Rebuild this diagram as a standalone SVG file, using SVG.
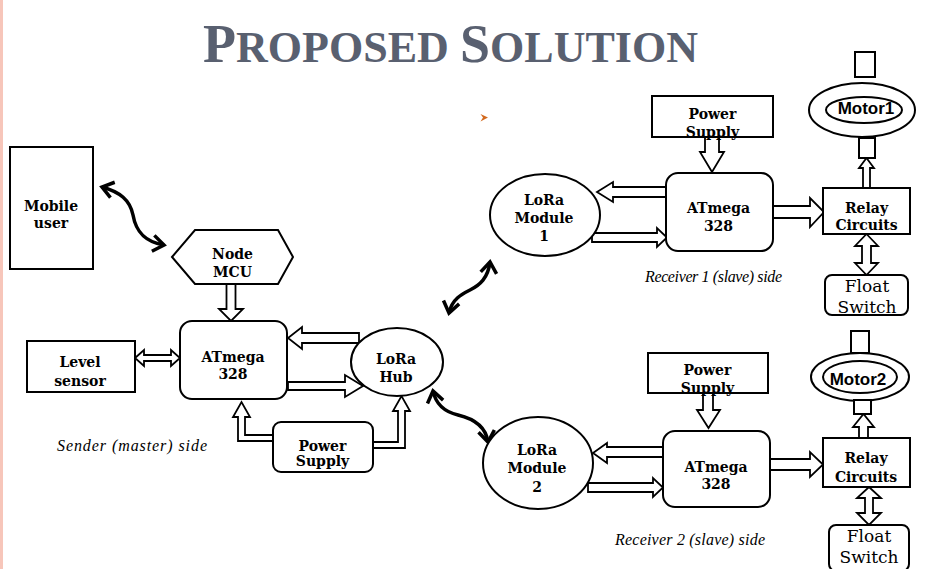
<svg xmlns="http://www.w3.org/2000/svg" width="931" height="569" viewBox="0 0 931 569">
<defs>
<style>
.box{fill:#fff;stroke:#000;stroke-width:2}
.ba{fill:#fff;stroke:#000;stroke-width:1.8;stroke-linejoin:miter}
.curve{fill:none;stroke:#000;stroke-width:3.5;marker-start:url(#chev);marker-end:url(#chev)}
.lb{font-family:"DejaVu Serif",serif;font-weight:bold;font-size:14px;text-anchor:middle;fill:#000}
.cap{font-family:"Liberation Serif","Times New Roman",serif;font-style:italic;font-size:16px;text-anchor:middle;fill:#000}
.fl{font-family:"DejaVu Serif",serif;font-size:17px;text-anchor:middle;fill:#000}
.mt{font-family:"Liberation Sans",Arial,sans-serif;font-weight:bold;font-size:17px;text-anchor:middle;fill:#000}
.title{font-family:"Liberation Serif","Times New Roman",serif;font-weight:bold;fill:#596070}
</style>
<marker id="chev" viewBox="-14 -10 16 20" refX="0" refY="0" markerWidth="16" markerHeight="20" markerUnits="userSpaceOnUse" orient="auto-start-reverse" style="overflow:visible">
<path d="M-11,-8 L0,0 L-11,8" fill="none" stroke="#000" stroke-width="3.5" stroke-linejoin="miter"/>
</marker>
</defs>
<rect x="0" y="0" width="931" height="569" fill="#fff"/>
<rect x="0" y="0" width="3" height="569" fill="#f7c6ba"/>

<g id="title">
<text class="title" x="203" y="62" textLength="495" lengthAdjust="spacing"><tspan font-size="54">P</tspan><tspan font-size="44">ROPOSED </tspan><tspan font-size="54">S</tspan><tspan font-size="44">OLUTION</tspan></text>
</g>
<polygon id="bullet" points="480.5,114 488,117.5 480.5,121.5 483,117.5" fill="#d2691e"/>

<g id="connectors">
<path class="curve" d="M102,187 C120,192 130,200 133,215 C136,232 145,242 164,245"/>
<path class="curve" d="M449,313 C452,299 462,294 470,290 C480,285 488,278 490,262"/>
<path class="curve" d="M433,391 C436,405 445,412 458,415 C475,419 486,428 488,442"/>
<polygon class="ba" points="226.5,284 235.5,284 235.5,309 243,309 231,321 219,309 226.5,309"/>
<polygon class="ba" points="135,358 144,350 144,355 171,355 171,350 180,358 171,366 171,361 144,361 144,366"/>
<polygon class="ba" points="359,333 302,333 302,327 288,338 302,349 302,343 359,343"/>
<polygon class="ba" points="288,382 345,382 345,375 363,386 345,397 345,390 288,390"/>
<polygon class="ba" points="273,435 245,435 245,417 250,417 241.5,402 233,417 238,417 238,441 273,441"/>
<polygon class="ba" points="373,442 398,442 398,411 393,411 401.5,396 410,411 405,411 405,448 373,448"/>
<polygon class="ba" points="666,187 613,187 613,182 597,192 613,202 613,197 666,197"/>
<polygon class="ba" points="592,233 657,233 657,228 667,237.5 657,247 657,242 592,242"/>
<polygon class="ba" points="705,137 719,137 719,152 724,152 712,172 700,152 705,152"/>
<polygon class="ba" points="773,206 810,206 810,198 824,212 810,227 810,218 773,218"/>
<polygon class="ba" points="863,188 870,188 870,168 874,168 866.5,158 859,168 863,168"/>
<polygon class="ba" points="866.5,234 878,246 871,246 871,263 878,263 866.5,275 855,263 862,263 862,246 855,246"/>
<polygon class="ba" points="663,447 607,447 607,443 593,453 607,463 607,457 663,457"/>
<polygon class="ba" points="588,483 653,483 653,478 663,487.5 653,497 653,492 588,492"/>
<polygon class="ba" points="703,393 713,393 713,410 720,410 708.5,428 697,410 703,410"/>
<polygon class="ba" points="770,459 810,459 810,452 823,464.5 810,477 810,470 770,470"/>
<polygon class="ba" points="859,438 868,438 868,427 874,427 863.5,414 853,427 859,427"/>
<polygon class="ba" points="869,487 881,498 873,498 873,513 881,513 869,525 857,513 865,513 865,498 857,498"/>
</g>

<g id="mobile-user">
<rect class="box" x="10" y="147" width="83" height="122"/>
<text class="lb" x="51" y="211">Mobile</text>
<text class="lb" x="51" y="228">user</text>
</g>
<g id="nodemcu">
<polygon class="box" points="172,257 195,230 278,230 293,257 278,284 195,284"/>
<text class="lb" x="232.5" y="259">Node</text>
<text class="lb" x="232.5" y="277">MCU</text>
</g>
<g id="atmega-sender">
<rect class="box" x="180" y="321" width="107" height="78" rx="12"/>
<text class="lb" x="233" y="362">ATmega</text>
<text class="lb" x="233" y="379">328</text>
</g>
<g id="level-sensor">
<rect class="box" x="27" y="341" width="108" height="51"/>
<text class="lb" x="80" y="367" font-size="16">Level</text>
<text class="lb" x="80" y="386" font-size="16">sensor</text>
</g>
<g id="lora-hub">
<ellipse class="box" cx="397" cy="362" rx="46" ry="34"/>
<text class="lb" x="396" y="364">LoRa</text>
<text class="lb" x="396" y="382">Hub</text>
</g>
<g id="power-sender">
<rect class="box" x="273" y="422" width="100" height="50" rx="8"/>
<text class="lb" x="322.5" y="451" font-size="13.5">Power</text>
<text class="lb" x="322.5" y="466" font-size="13.5">Supply</text>
</g>
<text id="cap-sender" class="cap" x="132" y="451" textLength="150">Sender (master) side</text>

<g id="lora-module-1">
<ellipse class="box" cx="545" cy="215" rx="55" ry="41"/>
<text class="lb" x="544" y="205">LoRa</text>
<text class="lb" x="544" y="223">Module</text>
<text class="lb" x="544" y="241">1</text>
</g>
<g id="atmega-r1">
<rect class="box" x="666" y="173" width="107" height="78" rx="12"/>
<text class="lb" x="718.5" y="213">ATmega</text>
<text class="lb" x="718.5" y="231">328</text>
</g>
<g id="power-r1">
<rect class="box" x="652" y="96" width="121" height="41"/>
<text class="lb" x="712.5" y="119" font-size="13.5">Power</text>
<text class="lb" x="712.5" y="137" font-size="13.5">Supply</text>
</g>
<g id="relay-r1">
<rect class="box" x="823" y="188" width="87" height="46"/>
<text class="lb" x="866.5" y="213" font-size="13.5">Relay</text>
<text class="lb" x="866.5" y="230" font-size="13.5">Circuits</text>
</g>
<g id="motor1">
<rect class="box" x="855" y="52" width="20" height="25"/>
<ellipse class="box" cx="862" cy="110" rx="53" ry="27"/>
<ellipse class="box" cx="864" cy="110" rx="38" ry="13"/>
<rect class="box" x="859" y="138" width="16" height="20"/>
<text class="mt" x="866" y="114">Motor1</text>
</g>
<g id="float-r1">
<rect class="box" x="825" y="275" width="83" height="40" rx="7"/>
<text class="fl" x="867" y="292">Float</text>
<text class="fl" x="867" y="313">Switch</text>
</g>
<text id="cap-r1" class="cap" x="713.5" y="282" font-size="15" textLength="137">Receiver 1 (slave) side</text>

<g id="lora-module-2">
<ellipse class="box" cx="538" cy="463" rx="55" ry="46"/>
<text class="lb" x="537" y="455">LoRa</text>
<text class="lb" x="537" y="473">Module</text>
<text class="lb" x="537" y="492">2</text>
</g>
<g id="atmega-r2">
<rect class="box" x="663" y="431" width="107" height="76" rx="12"/>
<text class="lb" x="716" y="472">ATmega</text>
<text class="lb" x="716" y="489">328</text>
</g>
<g id="power-r2">
<rect class="box" x="648" y="353" width="120" height="40"/>
<text class="lb" x="707.5" y="375" font-size="13.5">Power</text>
<text class="lb" x="707.5" y="393" font-size="13.5">Supply</text>
</g>
<g id="relay-r2">
<rect class="box" x="823" y="438" width="87" height="49"/>
<text class="lb" x="866" y="463" font-size="13.5">Relay</text>
<text class="lb" x="866" y="482" font-size="13.5">Circuits</text>
</g>
<g id="motor2">
<rect class="box" x="851" y="331" width="18" height="22"/>
<ellipse class="box" cx="860" cy="377" rx="49" ry="24"/>
<ellipse class="box" cx="860" cy="377" rx="37" ry="16"/>
<rect class="box" x="854" y="400" width="17" height="14"/>
<text class="mt" x="858" y="385">Motor2</text>
</g>
<g id="float-r2">
<rect class="box" x="829" y="525" width="80" height="46" rx="7"/>
<text class="fl" x="869" y="542">Float</text>
<text class="fl" x="869" y="563">Switch</text>
</g>
<text id="cap-r2" class="cap" x="690" y="545" textLength="150">Receiver 2 (slave) side</text>
</svg>
